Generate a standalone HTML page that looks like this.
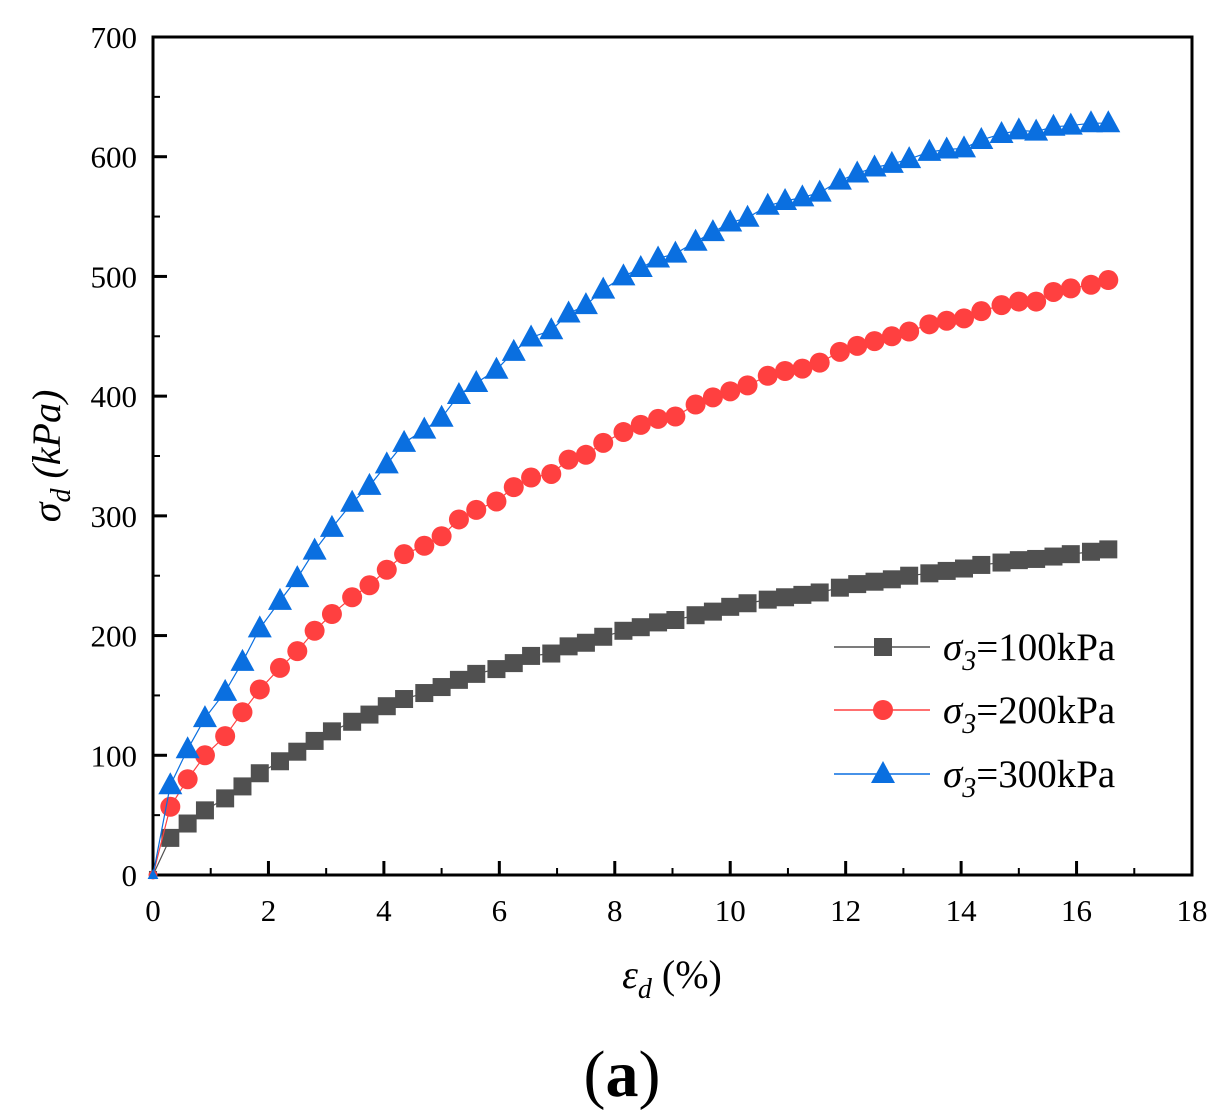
<!DOCTYPE html>
<html><head><meta charset="utf-8"><style>
html,body{margin:0;padding:0;background:#fff;}
svg{display:block;font-family:"Liberation Serif",serif;}
</style></head><body>
<svg id="chart" width="1220" height="1119" viewBox="0 0 1220 1119">
<g id="axes"></g>
<g id="series"></g>
<g id="legend"></g>
<text x="622" y="1096" font-size="66" text-anchor="middle">(<tspan font-weight="bold">a</tspan>)</text>
</svg>
<script>
const strain = [0,0.3,0.6,0.9,1.25,1.55,1.85,2.2,2.5,2.8,3.1,3.45,3.75,4.05,4.35,4.7,5.0,5.3,5.6,5.95,6.25,6.55,6.9,7.2,7.5,7.8,8.15,8.45,8.75,9.05,9.4,9.7,10.0,10.3,10.65,10.95,11.25,11.55,11.9,12.2,12.5,12.8,13.1,13.45,13.75,14.05,14.35,14.7,15.0,15.3,15.6,15.9,16.25,16.55];
const s100 = [0,31,43,54,64,74,85,95,103,112,120,128,134,141,147,152,157,163,168,172,177,183,185,191,194,199,204,207,211,213,217,220,224,227,230,232,234,236,240,243,245,247,250,252,254,256,259,261,263,264,266,268,270,272];
const s200 = [0,57,80,100,116,136,155,173,187,204,218,232,242,255,268,275,283,297,305,312,324,332,335,347,351,361,370,376,381,383,393,399,404,409,417,421,423,428,437,442,446,450,454,460,463,465,471,476,479,479,487,490,493,497];
const s300 = [0,75,105,131,153,178,206,229,248,271,290,311,325,343,361,372,382,401,411,422,437,449,455,469,476,489,500,507,515,519,529,537,545,549,559,563,566,570,580,586,591,594,598,604,606,607,614,619,622,621,625,626,628,628];
const xTicks = [0,2,4,6,8,10,12,14,16,18];
const yTicks = [0,100,200,300,400,500,600,700];
const legendLabels = ["100kPa","200kPa","300kPa"];

const NS="http://www.w3.org/2000/svg";
const X0=153,X1=1192,Y0=875,Y1=37;
const sx=v=>X0+(v/18)*(X1-X0);
const sy=v=>Y0-(v/700)*(Y0-Y1);
function mk(tag,attrs,parent){const e=document.createElementNS(NS,tag);for(const k in attrs)e.setAttribute(k,attrs[k]);parent.appendChild(e);return e;}
const axes=document.getElementById('axes');
const frame=mk('rect',{x:X0,y:Y1,width:X1-X0,height:Y0-Y1,fill:'none',stroke:'#000','stroke-width':3},axes);


xTicks.forEach((t,i)=>{
  const x=sx(t);
  const tk=mk('line',{x1:x,x2:x,y1:Y0,y2:Y0-14,stroke:'#000','stroke-width':3},axes);
  
  
  if(i<xTicks.length-1){const m=sx(t+1);const mt=mk('line',{x1:m,x2:m,y1:Y0,y2:Y0-7,stroke:'#000','stroke-width':2},axes);
  
  }
  const lb=mk('text',{x:x,y:Y0+46,'font-size':31,'text-anchor':'middle'},axes);lb.textContent=t;
  
  
});
yTicks.forEach((t,i)=>{
  const y=sy(t);
  const tk=mk('line',{x1:X0,x2:X0+14,y1:y,y2:y,stroke:'#000','stroke-width':3},axes);
  
  
  if(i<yTicks.length-1){const m=sy(t+50);const mt=mk('line',{x1:X0,x2:X0+7,y1:m,y2:m,stroke:'#000','stroke-width':2},axes);
  
  }
  const lb=mk('text',{x:X0-16,y:y+11,'font-size':31,'text-anchor':'end'},axes);lb.textContent=t;
  
  
});
const xt=mk('text',{x:672,y:988,'font-size':40,'text-anchor':'middle'},axes);
xt.innerHTML='<tspan font-style="italic">ε</tspan><tspan font-style="italic" font-size="28" dy="10">d</tspan><tspan dy="-10"> (%)</tspan>';


const yt=mk('text',{x:0,y:0,'font-size':40,'text-anchor':'middle',transform:'translate(60,456) rotate(-90)'},axes);
yt.innerHTML='<tspan font-style="italic">σ</tspan><tspan font-style="italic" font-size="28" dy="10">d</tspan><tspan dy="-10" font-style="italic"> (kPa)</tspan>';



const seriesG=document.getElementById('series');
function marker(kind,x,y,color,parent,s){
  s=s||1;
  if(kind==='sq') return mk('rect',{x:x-9*s,y:y-9*s,width:18*s,height:18*s,fill:color},parent);
  if(kind==='ci') return mk('circle',{cx:x,cy:y,r:10*s,fill:color},parent);
  return mk('polygon',{points:`${x},${y-13*s} ${x-12*s},${y+9*s} ${x+12*s},${y+9*s}`,fill:color},parent);
}
const defs=[[s100,'#505050','sq','series-100kpa'],[s200,'#ff4040','ci','series-200kpa'],[s300,'#0a6fe0','tr','series-300kpa']];
defs.forEach(([vals,color,kind,name])=>{
  const g=mk('g',{},seriesG);
  
  
  const pts=vals.map((v,i)=>sx(strain[i])+','+sy(v)).join(' ');
  const pl=mk('polyline',{points:pts,fill:'none',stroke:color,'stroke-width':1.2},g);
  
  
  vals.forEach((v,i)=>{
    const m=marker(kind,sx(strain[i]),sy(v),color,g,i===0?0.45:1);
    
    
  });
});
const lg=document.getElementById('legend');
defs.forEach(([vals,color,kind,name],i)=>{
  const y=[647,710,774][i];
  const ln=mk('line',{x1:834,x2:930,y1:y,y2:y,stroke:color,'stroke-width':1.5},lg);
  
  
  const m=marker(kind,883,y,color,lg);
  
  
  const t=mk('text',{x:943,y:y+13,'font-size':39},lg);
  t.innerHTML='<tspan font-style="italic">σ</tspan><tspan font-style="italic" font-size="28" dy="10">3</tspan><tspan dy="-10">='+legendLabels[i]+'</tspan>';
  
  
});
</script>
</body></html>
